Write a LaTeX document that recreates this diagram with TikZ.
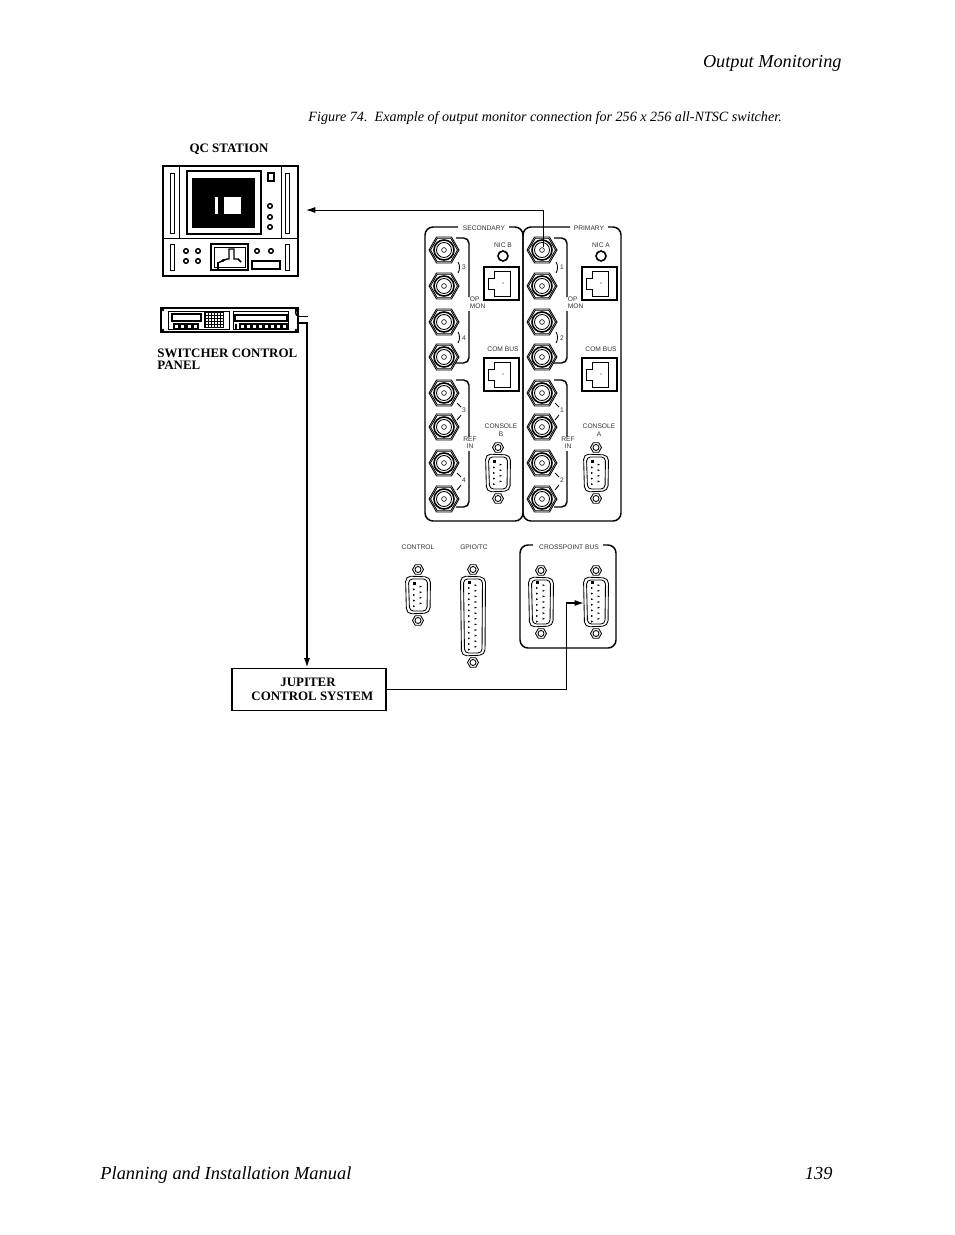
\documentclass[tikz,border=0pt]{standalone}
\usepackage{fontspec}
\setmainfont{Liberation Serif}
\newfontfamily\panelfont{Liberation Sans}
\usetikzlibrary{positioning,arrows.meta}

\tikzset{
    thinline/.style={line width=0.65pt},
    heavyline/.style={line width=1.1pt},
    silk/.style={inner sep=0pt, font=\panelfont\fontsize{5}{6}\selectfont, text=black!80},
    title/.style={inner sep=0pt, font=\bfseries\fontsize{9.7}{9}\selectfont},
    page/.style={inner sep=0pt, font=\itshape\fontsize{13.5}{15}\selectfont},
    bigtip/.style={-{Latex[length=7pt,width=4.5pt]}},
    pics/bnc/.style={code={
        \draw[thinline] (0:15) -- (60:15) -- (120:15) -- (180:15) -- (240:15) -- (300:15) -- cycle;
        \draw[thinline] (0:13.5) -- (60:13.5) -- (120:13.5) -- (180:13.5) -- (240:13.5) -- (300:13.5) -- cycle;
        \draw[line width=1.2pt] (0,0) circle (10);
        \draw[thinline] (0,0) circle (7.5);
        \draw[line width=0.45pt] (0,0) circle (2.4);
    }},
    pics/nut/.style={code={
        \draw[thinline] (0:5.5) -- (60:5.5) -- (120:5.5) -- (180:5.5) -- (240:5.5) -- (300:5.5) -- cycle;
        \draw[thinline] (0,0) circle (3);
    }},
    pics/rjbox/.style={code={
        \draw[heavyline] (0,0) rectangle (35,33);
        \draw[thinline] (26,4) -- (10,4) -- (10,11) -- (4,11) -- (4,22) -- (10,22) -- (10,29) -- (26,29) -- cycle;
        \fill (19,16) circle (0.6);
    }},
    pics/dsub/.style 2 args={code={
        \draw[thinline, rounded corners=4pt] (-12.5,-#1) -- (12.5,-#1+1) -- (12,#1-1) -- (-11.5,#1) -- cycle;
        \draw[thinline, rounded corners=3pt] (-9.5,-#1+3) -- (9.5,-#1+3) -- (9,#1-3) -- (-8.5,#1-3) -- cycle;
        \pgfmathsetmacro{\pinsteps}{int(#2-1)}
        \pgfmathsetmacro{\pintop}{-(#2-1)*2.8}
        \fill (-5.5,\pintop-1.5) rectangle (-2.5,\pintop+1.5);
        \foreach \pin in {1,...,\pinsteps}{
            \fill (-5,\pintop+5.6*\pin-1) -- (-5,\pintop+5.6*\pin+1) -- (-2.8,\pintop+5.6*\pin) -- cycle;
            \fill (1.5,\pintop+5.6*\pin-3.8) -- (1.5,\pintop+5.6*\pin-1.8) -- (3.9,\pintop+5.6*\pin-2.8) -- cycle;
        }
        \pic at (0,-#1-6.5) {nut};
        \pic at (0,#1+6.5) {nut};
    }},
}

\begin{document}
\begin{tikzpicture}[x=0.75pt, y=-0.75pt, thinline]
    \useasboundingbox (0,0) rectangle (954,1235);

    % page text
    \node[page, anchor=base east] (header) at (842,67) {\fontsize{13.7}{15}\selectfont Output Monitoring};
    \node[page, anchor=base west] (caption) at (308,121) {\fontsize{10.6}{12}\selectfont Figure 74.\enspace Example of output monitor connection for 256 x 256 all-NTSC switcher.};
    \node[page, anchor=base west] (manual) at (100,1179) {\fontsize{13.8}{15}\selectfont Planning and Installation Manual};
    \node[page, anchor=base east] (pagenum) at (833,1179) {\fontsize{13.8}{15}\selectfont 139};

    % qc station
    \node[title] (qclabel) at (229,149) {QC STATION};
    \draw[heavyline] (163,166) rectangle (298,276);
    \draw (163,238) -- (298,238);
    \draw (179,166) -- (179,238);
    \draw (281,166) -- (281,238);
    \draw[heavyline] (187,171) rectangle (261,234);
    \fill (192,178) rectangle (255,228);
    \fill[white] (215,197) rectangle (218,214);
    \fill[white] (224,197) rectangle (241,214);
    \draw[heavyline] (268,173) rectangle (274,181);
    \foreach \yy in {206,217,227}
        \draw[heavyline] (270,\yy) circle (2.3);
    \foreach \xx/\ya/\yb in {170/173/233, 285/173/233, 170/244/270, 285/244/270}
        \draw (\xx,\ya) rectangle (\xx+4,\yb);
    \foreach \xx/\yy in {186/251, 198/251, 186/261, 198/261, 257/251, 271/251}
        \draw[heavyline] (\xx,\yy) circle (2.3);
    \draw[line width=1.2pt] (211,244) rectangle (248,270);
    \draw (214,247) rectangle (245,267);
    \draw[heavyline] (218,263) -- (223,260.5) -- (227,259) -- (229,259) -- (229,249) -- (234,249) -- (234,259) -- (238,259) -- (241,262);
    \fill (223,260.5) circle (1.6);
    \draw[heavyline] (218,262) -- (218,270);
    \draw[heavyline] (252,261) rectangle (280,269);

    % switcher control panel
    \draw[heavyline] (161,308) rectangle (298,332);
    \foreach \xx/\yy in {163/310, 296/310, 163/330, 296/330}
        \fill (\xx,\yy) circle (1.3);
    \draw (168,311) rectangle (229,329);
    \draw[heavyline] (172,314) rectangle (201,321);
    \foreach \xx in {174,180,187,193}
        \draw[heavyline] (\xx,324) rectangle (\xx+5,329);
    \fill (204,311) rectangle (224,328);
    \foreach \xx in {206,209,...,221}
        \foreach \yy in {313,316,...,326}
            \fill[white] (\xx,\yy) rectangle (\xx+1.5,\yy+1.5);
    \draw (233,311) rectangle (288,329);
    \draw[heavyline] (235,315) rectangle (287,321);
    \fill (235,324) rectangle (237,329);
    \foreach \xx in {240,246,...,282}
        \draw[heavyline] (\xx,324) rectangle (\xx+5,329);
    \draw[heavyline] (299,316) arc (90:270:3.5);
    \node[title, anchor=base west, align=left] (panellabel) at (157,369) {SWITCHER CONTROL\\PANEL};

    % output and reference panels
    \foreach \xo/\side/\nicname/\chA/\chB/\gapA/\gapB in {0/B/SECONDARY/3/4/458/509, 98/A/PRIMARY/1/2/472/510}{
        \begin{scope}[shift={(\xo,0)}]
            \draw[heavyline, rounded corners=6pt] (\gapA,227) -- (425,227) -- (425,521) -- (523,521) -- (523,227) -- (\gapB,227);
            \node[silk] (name\side) at (484+\xo/14,228) {\nicname};
            \foreach \yy in {250,286,322,357,393,427,463,499}
                \pic at (444,\yy) {bnc};
            % brackets
            \draw[rounded corners=4pt, heavyline] (456,238) -- (469,238) -- (469,297);
            \draw[rounded corners=4pt, heavyline] (469,311) -- (469,363) -- (456,363);
            \draw[rounded corners=4pt, heavyline] (456,380) -- (469,380) -- (469,437);
            \draw[rounded corners=4pt, heavyline] (469,451) -- (469,507) -- (456,507);
            \draw (458,262) .. controls (460,265) and (460,270) .. (458,273);
            \draw (458,332) .. controls (460,335) and (460,340) .. (458,343);
            \draw (457,403) -- (461,407);
            \draw (457,420) -- (461,415);
            \draw (457,473) -- (461,477);
            \draw (457,490) -- (461,485);
            \node[silk] (upper\side a) at (464,267) {\chA};
            \node[silk] (upper\side b) at (464,338) {\chB};
            \node[silk] (lower\side a) at (464,410) {\chA};
            \node[silk] (lower\side b) at (464,480) {\chB};
            \node[silk, align=left, anchor=west] (opmon\side) at (469.5,303) {OP\\[-0.75pt]MON};
            \node[silk, align=center] (refin\side) at (470,443) {REF\\[-1pt]IN};
            % right hand side
            \node[silk] (nic\side) at (503,245) {NIC \side};
            \draw[line width=1.2pt] (503,256) circle (5);
            \pic at (484,267) {rjbox};
            \node[silk] (bus\side) at (503,349) {COM BUS};
            \pic at (484,358) {rjbox};
            \node[silk, align=center] (console\side) at (501,430) {CONSOLE\\\side};
            \pic at (498,473) {dsub={19}{5}};
        \end{scope}
    }

    % rear connectors
    \node[silk] (controllabel) at (418,547) {CONTROL};
    \pic at (418,595) {dsub={19}{5}};
    \node[silk] (gpiolabel) at (474,547) {GPIO/TC};
    \pic at (473,616) {dsub={40}{13}};
    \draw[heavyline, rounded corners=6pt] (533,545) -- (520,545) -- (520,648) -- (616,648) -- (616,545) -- (603,545);
    \node[silk] (crosslabel) at (569,547) {CROSSPOINT BUS};
    \pic at (541,602) {dsub={25}{8}};
    \pic at (596,602) {dsub={25}{8}};

    % control system
    \node[draw, line width=1.4pt, title, minimum width=115pt, minimum height=31.5pt, align=center] (jupiter) at (309,689.5) {JUPITER\hspace*{1.5pt}\\[1.5pt]\hspace*{5pt}CONTROL SYSTEM};

    % connections
    \coordinate (bncOut) at (543,247);
    \coordinate (qcIn) at (306,210);
    \coordinate (swOne) at (299,316);
    \coordinate (swEnd) at (308,316);
    \coordinate (swTwo) at (299,323);
    \coordinate (swBend) at (307,323);
    \coordinate (xpBend) at (566,603);
    \coordinate (xpIn) at (584,603);

    \draw[bigtip] (bncOut) |- (qcIn);
    \draw (swOne) -- (swEnd);
    \draw[bigtip, heavyline] (swTwo) -- (swBend) -- (swBend |- jupiter.north);
    \draw[heavyline] (jupiter.east) -- (xpBend |- jupiter.east);
    \draw (xpBend |- jupiter.east) -- (xpBend);
    \draw[bigtip, heavyline] (xpBend) -- (xpIn);
\end{tikzpicture}
\end{document}
